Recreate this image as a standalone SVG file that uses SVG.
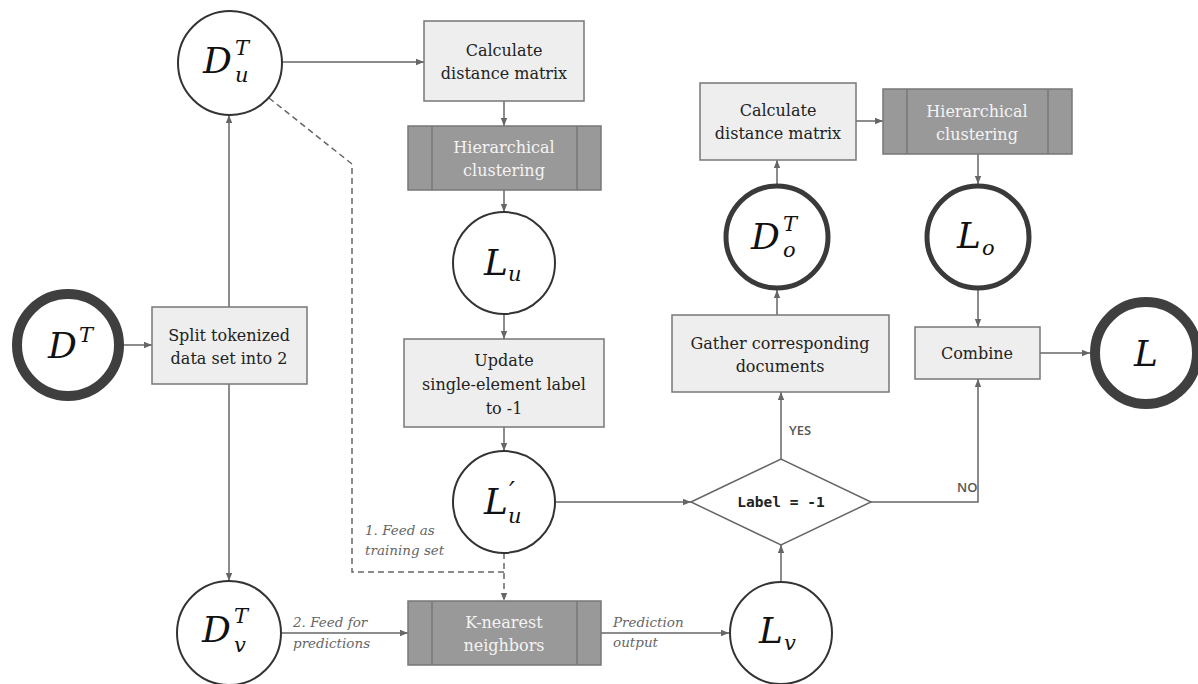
<svg xmlns="http://www.w3.org/2000/svg" width="1198" height="684" viewBox="0 0 1198 684">
<defs>
<marker id="arr" viewBox="0 0 10 10" refX="10" refY="5" markerWidth="8" markerHeight="8" markerUnits="userSpaceOnUse" orient="auto">
<path d="M0,1 L10,5 L0,9 z" fill="#666"/>
</marker>
</defs>
<style>
.box{fill:#eeeeee;stroke:#777;stroke-width:1.5}
.hc{fill:#999999;stroke:#777;stroke-width:1.5}
.hcl{stroke:#777;stroke-width:1.5}
.t{font-family:"DejaVu Serif","Liberation Serif",serif;font-size:16px;fill:#222;text-anchor:middle}
.tw{font-family:"DejaVu Serif","Liberation Serif",serif;font-size:16px;fill:#f4f4f4;text-anchor:middle}
.c{fill:#fff;stroke:#333;stroke-width:2}
.c5{fill:#fff;stroke:#3a3a3a;stroke-width:5}
.c10{fill:#fff;stroke:#3f3f3f;stroke-width:10}
.m{font-family:"DejaVu Serif","Liberation Serif",serif;font-style:italic;font-size:36px;fill:#111}
.s{font-family:"DejaVu Serif","Liberation Serif",serif;font-style:italic;font-size:21px;fill:#111}
.ln{fill:none;stroke:#666;stroke-width:1.5}
.dash{fill:none;stroke:#666;stroke-width:1.5;stroke-dasharray:6,4}
.lab{font-family:"DejaVu Serif","Liberation Serif",serif;font-style:italic;font-size:13.5px;fill:#666}
.yn{font-family:"Open Sans","DejaVu Sans",sans-serif;font-size:13px;font-weight:600;fill:#555}
.mono{font-family:"DejaVu Sans Mono",monospace;font-size:14.5px;font-weight:bold;fill:#222;text-anchor:middle}
</style>

<g id="connectors">
<line class="ln" x1="124" y1="345" x2="152" y2="345" marker-end="url(#arr)"/>
<line class="ln" x1="229" y1="307" x2="229" y2="115" marker-end="url(#arr)"/>
<line class="ln" x1="229" y1="384" x2="229" y2="581" marker-end="url(#arr)"/>
<line class="ln" x1="282" y1="62" x2="424" y2="62" marker-end="url(#arr)"/>
<line class="ln" x1="504" y1="101" x2="504" y2="126" marker-end="url(#arr)"/>
<line class="ln" x1="504" y1="190" x2="504" y2="212" marker-end="url(#arr)"/>
<line class="ln" x1="504" y1="314" x2="504" y2="339" marker-end="url(#arr)"/>
<line class="ln" x1="504" y1="427" x2="504" y2="451" marker-end="url(#arr)"/>
<line class="ln" x1="555" y1="502" x2="691" y2="502" marker-end="url(#arr)"/>
<path class="dash" d="M269,98 L352,164 L352,572 L504,572"/>
<line class="dash" x1="504" y1="553" x2="504" y2="601" marker-end="url(#arr)"/>
<line class="ln" x1="281" y1="633" x2="408" y2="633" marker-end="url(#arr)"/>
<line class="ln" x1="601" y1="633" x2="729" y2="633" marker-end="url(#arr)"/>
<line class="ln" x1="781" y1="582" x2="781" y2="545" marker-end="url(#arr)"/>
<line class="ln" x1="781" y1="459" x2="781" y2="392" marker-end="url(#arr)"/>
<line class="ln" x1="777" y1="315" x2="777" y2="290" marker-end="url(#arr)"/>
<line class="ln" x1="777" y1="184" x2="777" y2="160" marker-end="url(#arr)"/>
<line class="ln" x1="856" y1="121" x2="883" y2="121" marker-end="url(#arr)"/>
<line class="ln" x1="978" y1="154" x2="978" y2="184" marker-end="url(#arr)"/>
<line class="ln" x1="978" y1="290" x2="978" y2="327" marker-end="url(#arr)"/>
<path class="ln" d="M871,502 L978,502 L978,379" marker-end="url(#arr)"/>
<line class="ln" x1="1040" y1="353" x2="1090" y2="353" marker-end="url(#arr)"/>
<text class="lab" x="365" y="535">1. Feed as</text>
<text class="lab" x="365" y="555">training set</text>
<text class="lab" x="293" y="627">2. Feed for</text>
<text class="lab" x="293" y="648">predictions</text>
<text class="lab" x="613" y="627">Prediction</text>
<text class="lab" x="613" y="647">output</text>
<text class="yn" x="789" y="435">YES</text>
<text class="yn" x="957" y="492">NO</text>
</g>

<g id="DT">
<circle class="c10" cx="68" cy="345" r="51"/>
<text class="m" x="48" y="358">D</text>
<text class="s" x="79" y="342">T</text>
</g>

<g id="split">
<rect class="box" x="152" y="307" width="155" height="77"/>
<text class="t" x="229" y="341">Split tokenized</text>
<text class="t" x="229" y="364">data set into 2</text>
</g>

<g id="DuT">
<circle class="c" cx="230" cy="63" r="52"/>
<text class="m" x="203" y="73">D</text>
<text class="s" x="235" y="55">T</text>
<text class="s" x="235" y="82">u</text>
</g>

<g id="DvT">
<circle class="c" cx="229" cy="633" r="52"/>
<text class="m" x="202" y="642">D</text>
<text class="s" x="234" y="623">T</text>
<text class="s" x="234" y="652">v</text>
</g>

<g id="calc1">
<rect class="box" x="424" y="21" width="160" height="80"/>
<text class="t" x="504" y="56">Calculate</text>
<text class="t" x="504" y="79">distance matrix</text>
</g>

<g id="hc1">
<rect class="hc" x="408" y="126" width="193" height="64"/>
<line class="hcl" x1="432" y1="126" x2="432" y2="190"/>
<line class="hcl" x1="577" y1="126" x2="577" y2="190"/>
<text class="tw" x="504" y="153">Hierarchical</text>
<text class="tw" x="504" y="176">clustering</text>
</g>

<g id="Lu">
<circle class="c" cx="504" cy="263" r="51"/>
<text class="m" x="484" y="275">L</text>
<text class="s" x="508" y="281">u</text>
</g>

<g id="update">
<rect class="box" x="404" y="339" width="200" height="88"/>
<text class="t" x="504" y="366">Update</text>
<text class="t" x="504" y="390">single-element label</text>
<text class="t" x="504" y="414">to -1</text>
</g>

<g id="Lpu">
<circle class="c" cx="504" cy="502" r="51"/>
<text class="m" x="484" y="514">L</text>
<text class="s" x="509" y="500" style="font-size:26px">′<tspan x="508" y="523" style="font-size:21px">u</tspan></text>
</g>

<g id="knn">
<rect class="hc" x="408" y="601" width="193" height="64"/>
<line class="hcl" x1="432" y1="601" x2="432" y2="665"/>
<line class="hcl" x1="577" y1="601" x2="577" y2="665"/>
<text class="tw" x="504" y="628">K-nearest</text>
<text class="tw" x="504" y="651">neighbors</text>
</g>

<g id="Lv">
<circle class="c" cx="781" cy="633" r="51"/>
<text class="m" x="759" y="643">L</text>
<text class="s" x="784" y="650">v</text>
</g>

<g id="decision">
<polygon points="691,502 781,459 871,502 781,545" fill="#fff" stroke="#666" stroke-width="1.5"/>
<text class="mono" x="781" y="507">Label = -1</text>
</g>

<g id="gather">
<rect class="box" x="672" y="315" width="217" height="77"/>
<text class="t" x="780" y="349">Gather corresponding</text>
<text class="t" x="780" y="372">documents</text>
</g>

<g id="DoT">
<circle class="c5" cx="777" cy="237" r="51"/>
<text class="m" x="751" y="249">D</text>
<text class="s" x="783" y="231">T</text>
<text class="s" x="783" y="257">o</text>
</g>

<g id="calc2">
<rect class="box" x="700" y="83" width="156" height="77"/>
<text class="t" x="778" y="116">Calculate</text>
<text class="t" x="778" y="139">distance matrix</text>
</g>

<g id="hc2">
<rect class="hc" x="883" y="89" width="189" height="65"/>
<line class="hcl" x1="907" y1="89" x2="907" y2="154"/>
<line class="hcl" x1="1048" y1="89" x2="1048" y2="154"/>
<text class="tw" x="977" y="117">Hierarchical</text>
<text class="tw" x="977" y="140">clustering</text>
</g>

<g id="Lo">
<circle class="c5" cx="978" cy="237" r="51"/>
<text class="m" x="957" y="248">L</text>
<text class="s" x="982" y="255">o</text>
</g>

<g id="combine">
<rect class="box" x="915" y="327" width="125" height="52"/>
<text class="t" x="977" y="359">Combine</text>
</g>

<g id="L">
<circle class="c10" cx="1146" cy="353" r="51"/>
<text class="m" x="1146" y="366" text-anchor="middle">L</text>
</g>
</svg>
